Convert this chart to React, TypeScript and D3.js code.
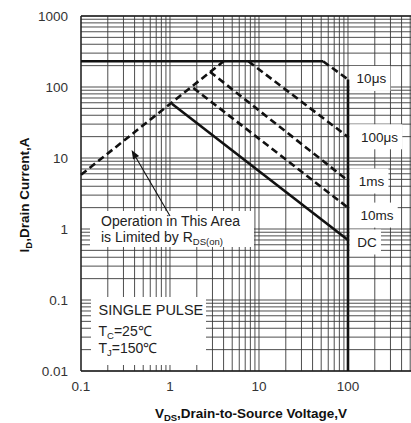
import React, { useEffect, useRef } from "react";
import * as d3 from "d3";

// ---- data ----
const xTicks = [0.1, 1, 10, 100];
const xTickLabels = ["0.1", "1", "10", "100"];
const yTicks = [0.01, 0.1, 1, 10, 100, 1000];
const yTickLabels = ["0.01", "0.1", "1", "10", "100", "1000"];

const rdsLimitV = [0.1, 4.0];
const rdsLimitI = [5.8, 230];
const currentLimitV = [0.1, 52.5];
const currentLimitI = [230, 230];
const curveNames = ["10μs", "100μs", "1ms", "10ms", "DC"];
const curveStartV = [52.5, 7.6, 2.81, 1.83, 1.05];
const curveStartI = [230, 230, 164, 97, 58];
const curveEndV = [100, 100, 100, 100, 100];
const curveEndI = [128, 19.8, 4.8, 2.0, 0.7];
const curveDashed = [true, true, true, true, false];
const labelV = [125, 140, 132, 138, 127];
const labelI = [132, 19.9, 4.74, 1.57, 0.656];
const voltageLimitV = [100, 100];
const voltageLimitI = [128, 0.01];
const arrowFrom = [1.0, 1.52];
const arrowTo = [0.37, 13];

const FONT = "'Liberation Sans', Arial, Helvetica, sans-serif";

export default function App() {
  const ref = useRef<SVGSVGElement>(null);

  useEffect(() => {
    const svg = d3.select(ref.current);
    svg.selectAll("*").remove();
    const W = 411;
    const x = d3.scaleLog().domain([0.1, 500]).range([81, 410.2]);
    const y = d3.scaleLog().domain([0.01, 1000]).range([371, 16]);
    const [x0] = x.range();
    const [yb, yt] = y.range();

    const gGrid = svg.append("g");
    const gMask = svg.append("g");
    const gCurves = svg.append("g");
    const gText = svg.append("g").attr("font-family", FONT);

    // grid
    const gridV: number[] = [];
    [0.1, 1, 10, 100].forEach((d) => {
      for (let m = 1; m <= 9; m++) {
        const v = +(d * m).toPrecision(3);
        if (v <= 500) gridV.push(v);
      }
    });
    const gridH: number[] = [];
    [0.01, 0.1, 1, 10, 100].forEach((d) => {
      for (let m = 1; m <= 9; m++) gridH.push(+(d * m).toPrecision(3));
    });
    gridH.push(1000);

    gGrid
      .selectAll("line.v")
      .data(gridV)
      .join("line")
      .attr("x1", (d) => x(d))
      .attr("x2", (d) => x(d))
      .attr("y1", yt)
      .attr("y2", yb)
      .attr("stroke", "#3a3a3a")
      .attr("stroke-width", 0.9);
    gGrid
      .selectAll("line.h")
      .data(gridH)
      .join("line")
      .attr("x1", x0)
      .attr("x2", W)
      .attr("y1", (d) => y(d))
      .attr("y2", (d) => y(d))
      .attr("stroke", "#3a3a3a")
      .attr("stroke-width", 0.9);
    // axes
    gGrid.append("line").attr("x1", x0).attr("x2", x0).attr("y1", yt).attr("y2", yb).attr("stroke", "#222").attr("stroke-width", 1.3);
    gGrid.append("line").attr("x1", x0).attr("x2", W).attr("y1", yb).attr("y2", yb).attr("stroke", "#222").attr("stroke-width", 1.3);
    gGrid.append("line").attr("x1", x0).attr("x2", W).attr("y1", yt).attr("y2", yt).attr("stroke", "#222").attr("stroke-width", 1.3);

    // tick labels
    gText
      .selectAll("text.yt")
      .data(yTicks)
      .join("text")
      .attr("x", x0 - 13)
      .attr("y", (d) => y(d))
      .attr("dy", "0.35em")
      .attr("text-anchor", "end")
      .attr("font-size", 13.5)
      .attr("fill", "#333")
      .text((d, i) => yTickLabels[i]);
    gText
      .selectAll("text.xt")
      .data(xTicks)
      .join("text")
      .attr("x", (d) => x(d))
      .attr("y", 391)
      .attr("text-anchor", "middle")
      .attr("font-size", 13.5)
      .attr("fill", "#333")
      .text((d, i) => xTickLabels[i]);

    // axis titles
    const yTitle = gText
      .append("text")
      .attr("transform", "translate(29,195) rotate(-90)")
      .attr("text-anchor", "middle")
      .attr("font-size", 13.5)
      .attr("font-weight", "bold")
      .attr("fill", "#111");
    yTitle.append("tspan").text("I");
    yTitle.append("tspan").attr("font-size", 9.5).attr("dy", 3).text("D");
    yTitle.append("tspan").attr("dy", -3).text(",Drain Current,A");

    const xTitle = gText
      .append("text")
      .attr("x", 251)
      .attr("y", 418)
      .attr("text-anchor", "middle")
      .attr("font-size", 13.5)
      .attr("font-weight", "bold")
      .attr("fill", "#111");
    xTitle.append("tspan").text("V");
    xTitle.append("tspan").attr("font-size", 9.5).attr("dy", 3).text("DS");
    xTitle.append("tspan").attr("dy", -3).text(",Drain-to-Source Voltage,V");

    // curves
    const line = d3
      .line<[number, number]>()
      .x((d) => x(d[0]))
      .y((d) => y(d[1]));
    const heavy = (sel: any, dashed: boolean) =>
      sel
        .attr("fill", "none")
        .attr("stroke", "#111")
        .attr("stroke-width", 2.6)
        .attr("stroke-dasharray", dashed ? "7,4" : null);

    heavy(gCurves.append("path").attr("d", line(rdsLimitV.map((v, i) => [v, rdsLimitI[i]]))), true);
    heavy(gCurves.append("path").attr("d", line(currentLimitV.map((v, i) => [v, currentLimitI[i]]))), false);
    curveNames.forEach((_, i) => {
      heavy(
        gCurves.append("path").attr("d", line([[curveStartV[i], curveStartI[i]], [curveEndV[i], curveEndI[i]]])),
        curveDashed[i]
      );
    });
    heavy(gCurves.append("path").attr("d", line(voltageLimitV.map((v, i) => [v, voltageLimitI[i]]))), false);

    // arrow
    const ax1 = x(arrowFrom[0]), ay1 = y(arrowFrom[1]);
    const ax2 = x(arrowTo[0]), ay2 = y(arrowTo[1]);
    const ang = Math.atan2(ay2 - ay1, ax2 - ax1);
    const hl = 9, hw = 3.5;
    const bx = ax2 - hl * Math.cos(ang), by = ay2 - hl * Math.sin(ang);
    gCurves.append("line").attr("x1", ax1).attr("y1", ay1).attr("x2", bx).attr("y2", by).attr("stroke", "#111").attr("stroke-width", 1.1);
    gCurves
      .append("path")
      .attr(
        "d",
        `M${ax2},${ay2}L${bx + hw * Math.sin(ang)},${by - hw * Math.cos(ang)}L${bx - hw * Math.sin(ang)},${by + hw * Math.cos(ang)}Z`
      )
      .attr("fill", "#111");

    // curve labels with white boxes (boxes start right of the 100 V line)
    const boxLeft = x(100) + 1.5;
    curveNames.forEach((name, i) => {
      const cy = y(labelI[i]);
      const t = gText
        .append("text")
        .attr("x", x(labelV[i]))
        .attr("y", cy)
        .attr("dy", "0.35em")
        .attr("font-size", 13.5)
        .attr("fill", "#222")
        .text(name);
      const b = (t.node() as SVGTextElement).getBBox();
      gMask
        .append("rect")
        .attr("x", boxLeft)
        .attr("y", cy - 12.5)
        .attr("width", b.x + b.width + 4 - boxLeft)
        .attr("height", 25)
        .attr("fill", "#fff");
    });

    // annotation box
    const ann = gText.append("g").attr("font-size", 14).attr("fill", "#222");
    ann.append("text").attr("x", 101).attr("y", 225.5).text("Operation in This Area");
    const l2 = ann.append("text").attr("x", 101).attr("y", 241.5);
    l2.append("tspan").text("is Limited by R");
    l2.append("tspan").attr("font-size", 9.5).attr("dy", 3).text("DS(on)");
    gMask.append("rect").attr("x", 90).attr("y", 211).attr("width", 164).attr("height", 36).attr("fill", "#fff");

    // single pulse box
    const sp = gText.append("g").attr("fill", "#222");
    sp.append("text").attr("x", 98.5).attr("y", 315).attr("font-size", 14.5).text("SINGLE PULSE");
    const tc = sp.append("text").attr("x", 98.5).attr("y", 336).attr("font-size", 14);
    tc.append("tspan").text("T");
    tc.append("tspan").attr("font-size", 9.5).attr("dy", 3).text("C");
    tc.append("tspan").attr("dy", -3).text("=25℃");
    const tj = sp.append("text").attr("x", 98.5).attr("y", 353).attr("font-size", 14);
    tj.append("tspan").text("T");
    tj.append("tspan").attr("font-size", 9.5).attr("dy", 3).text("J");
    tj.append("tspan").attr("dy", -3).text("=150℃");
    gMask.append("rect").attr("x", 91).attr("y", 297).attr("width", 115).attr("height", 68).attr("fill", "#fff");
  }, []);

  return (
    <svg
      ref={ref}
      width={411}
      height={423}
      style={{ position: "absolute", left: 0, top: 0, background: "#fff" }}
    />
  );
}
